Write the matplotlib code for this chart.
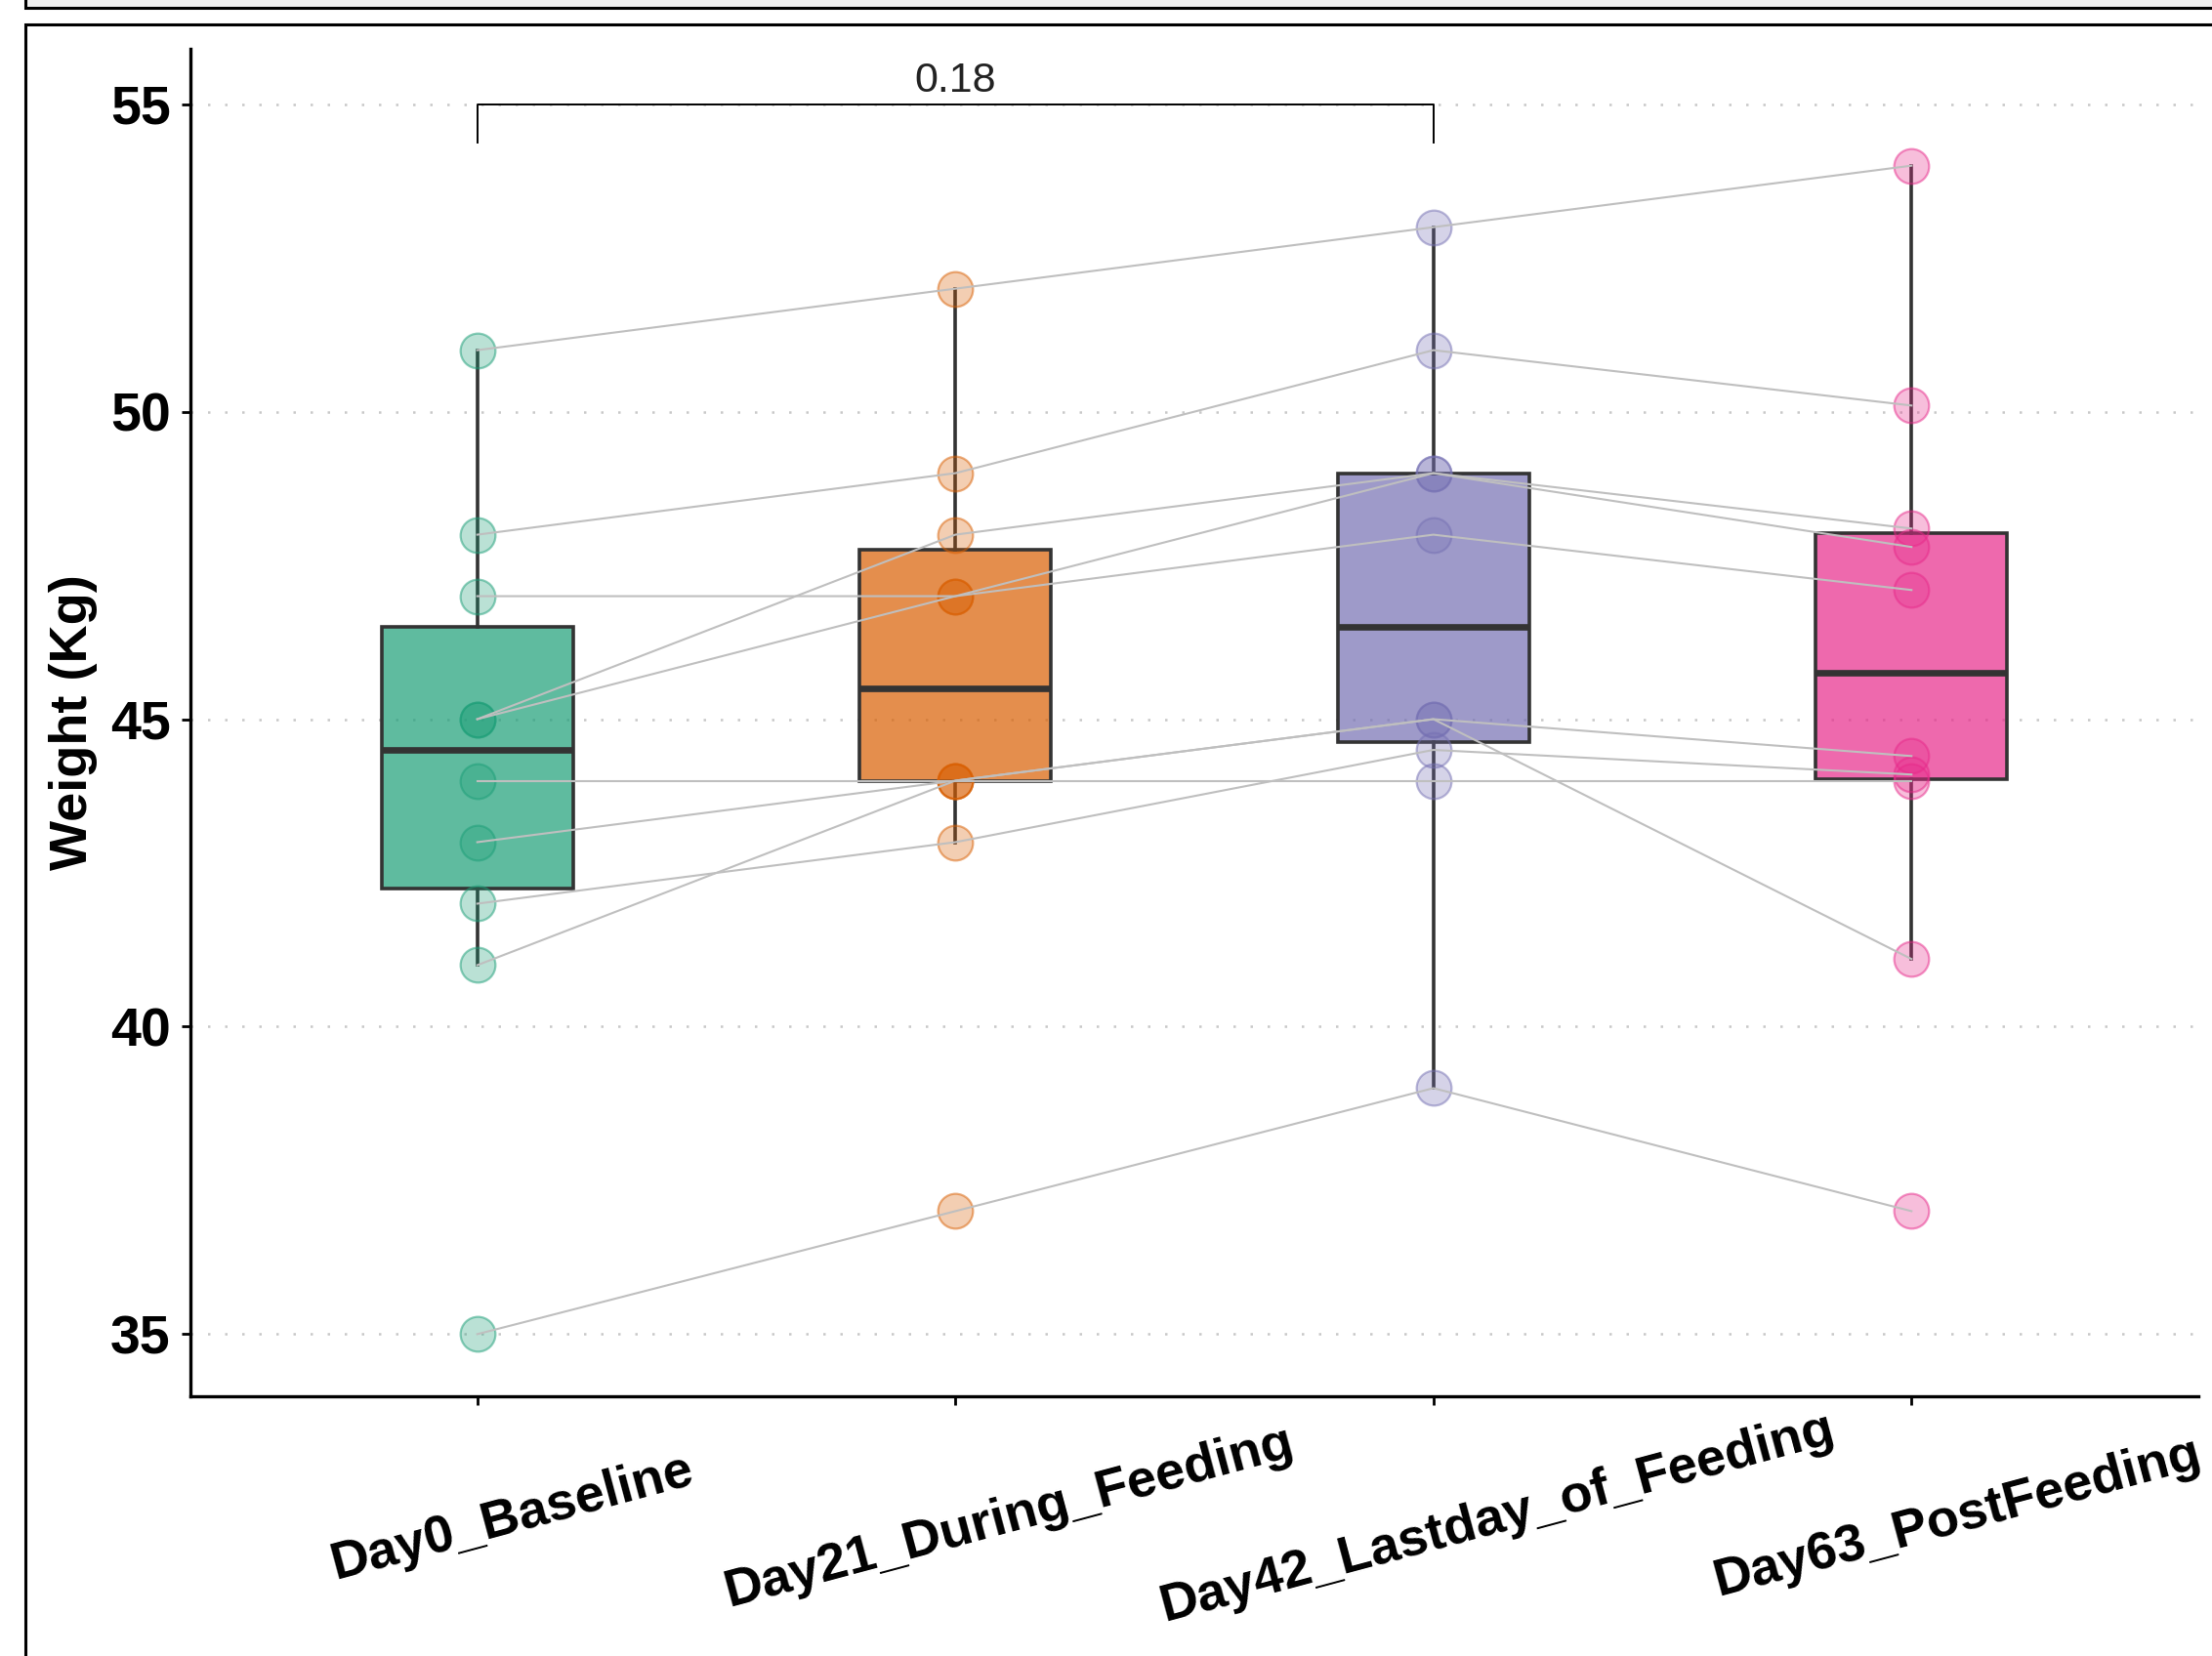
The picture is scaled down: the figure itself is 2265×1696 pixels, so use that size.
import matplotlib
matplotlib.use("Agg")
import matplotlib.pyplot as plt
from matplotlib.patches import Rectangle
from matplotlib.colors import to_rgba
from matplotlib.transforms import ScaledTranslation

# ---- data -------------------------------------------------------------
groups = ["Day0_Baseline", "Day21_During_Feeding",
          "Day42_Lastday_of_Feeding", "Day63_PostFeeding"]
day0 = [51, 48, 47, 45, 45, 44, 43, 42, 41, 35]
day21 = [52, 49, 47, 48, 47, 44, 44, 43, 44, 37]
day42 = [53, 51, 48, 49, 49, 44, 45, 44.5, 45, 39]
day63 = [54, 50.1, 47.1, 48.1, 47.8, 44, 44.4, 44.1, 41.1, 37]
palette = ["#1B9E77", "#D95F02", "#7570B3", "#E7298A"]
y_ticks = [35, 40, 45, 50, 55]
y_label = "Weight (Kg)"
p_value = "0.18"
p_pair = (1, 3)
p_level = 55

series = [day0, day21, day42, day63]
positions = list(range(1, len(groups) + 1))

plt.rcParams["font.family"] = ["Liberation Sans", "DejaVu Sans"]

W, H = 2265, 1696
fig = plt.figure(figsize=(W / 200, H / 200), dpi=200)
fig.patch.set_facecolor("white")

# window frames around the plot (kept underneath the axes)
fig.patches.append(Rectangle((26 / W, 1 - 8 / H), 1.2, 0.2, transform=fig.transFigure,
                             facecolor="#f0f0f0", edgecolor="black", lw=1.1, zorder=-5))
fig.patches.append(Rectangle((26 / W, -0.2), 1.2, 1.2 - 25 / H, transform=fig.transFigure,
                             facecolor="white", edgecolor="black", lw=1.1, zorder=-5))

ax = fig.add_axes([195 / W, 1 - 1430 / H, (2251 - 195) / W, (1430 - 50) / H])
ax.set_facecolor("none")

# boxes
bp = ax.boxplot(series, positions=positions, widths=0.4, whis=1.5,
                showfliers=False, showcaps=False, patch_artist=True,
                boxprops=dict(edgecolor="#333333", linewidth=1.3),
                whiskerprops=dict(color="#333333", linewidth=1.3),
                medianprops=dict(color="#333333", linewidth=2.4, solid_capstyle="butt"))
for patch, c in zip(bp["boxes"], palette):
    patch.set_facecolor(to_rgba(c, 0.7))
    patch.set_zorder(2)
for part in ("whiskers", "medians"):
    for ln in bp[part]:
        ln.set_zorder(2.5)

# individual points
for x, vals, c in zip(positions, series, palette):
    ax.scatter([x] * len(vals), vals, s=165, facecolor=to_rgba(c, 0.3),
               edgecolor=to_rgba(c, 0.5), linewidth=0.8, zorder=4)

# paired lines per subject
for subj in zip(*series):
    ax.plot(positions, subj, color="#bfbfbf", lw=0.75, zorder=5)

# significance bracket
x1, x2 = p_pair
ax.plot([x1, x1, x2, x2], [p_level - 0.62, p_level, p_level, p_level - 0.62],
        color="black", lw=0.7, zorder=6)
ax.text((x1 + x2) / 2, p_level + 0.2, p_value, ha="center", va="baseline",
        fontsize=15.5, color="#222222")

# axes styling
ax.set_xlim(0.4, 4.6)
ax.set_ylim(33.99, 55.9)
ax.set_yticks(y_ticks)
ax.set_yticklabels([str(t) for t in y_ticks], fontsize=20, fontweight="bold")
ax.set_xticks(positions)
ax.set_xticklabels(groups, fontsize=19.5, fontweight="bold", rotation=15,
                   ha="center", va="center")
ax.yaxis.grid(True, color="#c8c8c8", lw=0.9, linestyle=(0, (1, 6)))
ax.xaxis.grid(False)
ax.set_axisbelow(True)
for s in ("top", "right"):
    ax.spines[s].set_visible(False)
for s in ("left", "bottom"):
    ax.spines[s].set_linewidth(1.2)
    ax.spines[s].set_color("black")
ax.tick_params(axis="both", length=3.3, width=1.0, color="black")
ax.tick_params(axis="y", pad=4)
ax.tick_params(axis="x", pad=41.5)

ax.set_ylabel(y_label, fontsize=19.5, fontweight="bold")
ax.yaxis.set_label_coords((100 - 195) / 2056, 0.5)

# shift rotated tick labels slightly right, in proportion to their length
fig.canvas.draw()
for lab in ax.get_xticklabels():
    w = lab.get_window_extent().width
    dx = 0.093 * w / fig.dpi
    lab.set_transform(lab.get_transform() + ScaledTranslation(dx, 0, fig.dpi_scale_trans))

fig.savefig("out.png", dpi=200, facecolor="white")
